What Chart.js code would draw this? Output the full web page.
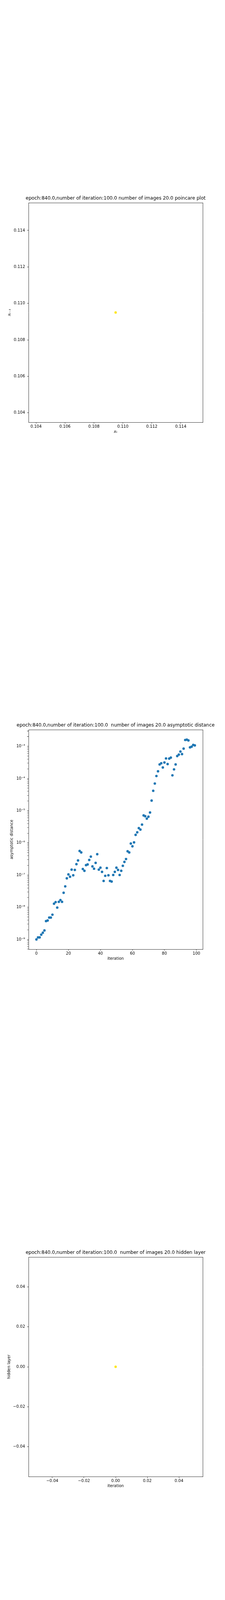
<!DOCTYPE html>
<html>
<head>
<meta charset="utf-8">
<script src="https://cdn.jsdelivr.net/npm/chart.js@4.4.1/dist/chart.umd.min.js"></script>
<style>
  body { margin: 0; background: #fff; width: 576px; height: 4320px; position: relative; }
  canvas { position: absolute; left: 16px; }
</style>
</head>
<body>
<canvas id="poincare" width="560" height="620" style="top:491px"></canvas>
<canvas id="distance" width="560" height="620" style="top:1840px"></canvas>
<canvas id="hidden" width="560" height="620" style="top:3190px"></canvas>
<script>
// poincare plot: one point
let poincareX = [0.1095];
let poincareY = [0.1095];
let poincareTicks = [0.104, 0.106, 0.108, 0.110, 0.112, 0.114];

// asymptotic distance per iteration
let iterations = [
  0, 1, 2, 3, 4, 5, 6, 7, 8, 9,
  10, 11, 12, 13, 14, 15, 16, 17, 18, 19,
  20, 21, 22, 23, 24, 25, 26, 27, 28, 29,
  30, 31, 32, 33, 34, 35, 36, 37, 38, 39,
  40, 41, 42, 43, 44, 45, 46, 47, 48, 49,
  50, 51, 52, 53, 54, 55, 56, 57, 58, 59,
  60, 61, 62, 63, 64, 65, 66, 67, 68, 69,
  70, 71, 72, 73, 74, 75, 76, 77, 78, 79,
  80, 81, 82, 83, 84, 85, 86, 87, 88, 89,
  90, 91, 92, 93, 94, 95, 96, 97, 98, 99
];
let asymptoticDistance = [
  1.00e-9, 1.16e-9, 1.16e-9, 1.41e-9, 1.62e-9, 1.91e-9, 3.72e-9, 3.89e-9, 4.79e-9, 4.79e-9,
  5.89e-9, 1.29e-8, 1.45e-8, 9.8e-9, 1.48e-8, 1.68e-8, 1.48e-8, 2.82e-8, 4.47e-8, 7.94e-8,
  1.05e-7, 8.91e-8, 1.48e-7, 9.9e-8, 1.45e-7, 2.19e-7, 2.85e-7, 5.62e-7, 5.07e-7, 1.55e-7,
  1.36e-7, 2.04e-7, 2.14e-7, 2.95e-7, 3.76e-7, 1.86e-7, 1.58e-7, 2.40e-7, 4.47e-7, 1.48e-7,
  1.70e-7, 1.26e-7, 6.6e-8, 9.5e-8, 1.66e-7, 9.9e-8, 6.6e-8, 6.3e-8, 1.01e-7, 1.26e-7,
  1.70e-7, 1.45e-7, 1.01e-7, 1.36e-7, 1.95e-7, 2.57e-7, 3.16e-7, 5.50e-7, 5.07e-7, 9.55e-7,
  7.85e-7, 1.04e-6, 1.78e-6, 2.14e-6, 2.88e-6, 2.60e-6, 3.72e-6, 7.16e-6, 6.76e-6, 5.69e-6,
  6.53e-6, 8.81e-6, 2.07e-5, 4.17e-5, 7.0e-5, 1.20e-4, 1.68e-4, 2.75e-4, 2.99e-4, 2.21e-4,
  3.16e-4, 4.22e-4, 2.82e-4, 4.17e-4, 4.47e-4, 1.26e-4, 1.93e-4, 2.75e-4, 5.01e-4, 5.56e-4,
  6.92e-4, 5.75e-4, 8.51e-4, 1.58e-3, 1.62e-3, 1.53e-3, 9.3e-4, 9.8e-4, 1.11e-3, 1.07e-3
];
let iterationTicks = [0, 20, 40, 60, 80, 100];
let distanceExponents = [-9, -8, -7, -6, -5, -4, -3];
let distanceTickLabels = ["10⁻⁹", "10⁻⁸", "10⁻⁷", "10⁻⁶", "10⁻⁵", "10⁻⁴", "10⁻³"];

// hidden layer: one point
let hiddenX = [0.0];
let hiddenY = [0.0];
let hiddenTicks = [-0.04, -0.02, 0.00, 0.02, 0.04];

Chart.defaults.font.family = "'DejaVu Sans', sans-serif";
Chart.defaults.color = "#000";

function tickGrid()
{
  return {
    drawOnChartArea: false,
    drawTicks: true,
    tickLength: 3.5,
    tickColor: "#000",
    tickWidth: function(ctx) { return ctx.tick && ctx.tick.major === false ? 0.6 : 0.8; }
  };
}

function spine(position)
{
  return {
    type: "linear",
    position: position,
    min: 0,
    max: 1,
    grid: { display: false, drawTicks: false },
    ticks: { display: false },
    border: { display: true, color: "#000", width: 0.8 },
    afterFit: function(scale) {
      if (position === "top") scale.height = 0;
      else scale.width = 57;
    }
  };
}

function xAxis(opts)
{
  return Object.assign({
    position: "bottom",
    afterFit: function(scale) { scale.height = 30; },
    ticks: { autoSkip: false, maxRotation: 0, padding: 1.5, font: { size: 10 }, callback: opts.format },
    grid: tickGrid(),
    border: { display: true, color: "#000", width: 0.8 },
    title: { display: true, text: opts.label, font: { size: 10, style: opts.italic ? "italic" : "normal" }, padding: { top: 0, bottom: 0 } }
  }, opts.scale);
}

function yAxis(opts)
{
  return Object.assign({
    position: "left",
    afterFit: function(scale) { scale.width = 57; },
    ticks: { autoSkip: false, padding: 5.5, font: { size: 10 }, callback: opts.format },
    grid: tickGrid(),
    border: { display: true, color: "#000", width: 0.8 },
    title: { display: true, text: opts.label, font: { size: 10, style: opts.italic ? "italic" : "normal" }, padding: { top: opts.titlePad, bottom: 0 } }
  }, opts.scale);
}

function makeChart(id, title, points, color, scales)
{
  scales.x2 = spine("top");
  scales.y2 = spine("right");
  return new Chart(document.getElementById(id), {
    type: "scatter",
    data: {
      datasets: [{
        data: points,
        backgroundColor: color,
        borderWidth: 0,
        pointRadius: 3.2,
        pointHoverRadius: 3.2
      }]
    },
    options: {
      responsive: false,
      animation: false,
      events: [],
      layout: { padding: 0 },
      plugins: {
        legend: { display: false },
        tooltip: { enabled: false },
        title: {
          display: true,
          text: title,
          color: "#000",
          font: { size: 12, weight: "normal" },
          padding: { top: 9.8, bottom: 3.8 }
        }
      },
      scales: scales
    }
  });
}

function fixedTicks(values)
{
  return function(scale) { scale.ticks = values.map(function(v) { return { value: v }; }); };
}

function minus(text)
{
  return text.replace("-", "\u2212");
}

// chart 1: poincare plot
makeChart("poincare",
  "epoch:840.0,number of iteration:100.0 number of images 20.0 poincare plot",
  poincareX.map(function(x, i) { return { x: x, y: poincareY[i] }; }),
  "#fde725",
  {
    x: xAxis({
      label: "xₜ", italic: true,
      format: function(v) { return minus(v.toFixed(3)); },
      scale: { type: "linear", min: 0.10348, max: 0.11552, afterBuildTicks: fixedTicks(poincareTicks) }
    }),
    y: yAxis({
      label: "xₜ₋₁", italic: true, titlePad: 2.5,
      format: function(v) { return minus(v.toFixed(3)); },
      scale: { type: "linear", min: 0.10348, max: 0.11552, afterBuildTicks: fixedTicks(poincareTicks) }
    })
  });

// chart 2: asymptotic distance, log scale
let logTicks = [];
distanceExponents.forEach(function(e) {
  for (let k = 1; k <= 9; k++) logTicks.push({ value: k * Math.pow(10, e), major: k === 1 });
});
logTicks.push({ value: 2 * Math.pow(10, -3), major: false });
logTicks.push({ value: 3 * Math.pow(10, -3), major: false });
logTicks.unshift({ value: 9 * Math.pow(10, -10), major: false });
logTicks.unshift({ value: 8 * Math.pow(10, -10), major: false });
logTicks.unshift({ value: 7 * Math.pow(10, -10), major: false });
logTicks.unshift({ value: 6 * Math.pow(10, -10), major: false });
logTicks.unshift({ value: 5 * Math.pow(10, -10), major: false });

makeChart("distance",
  "epoch:840.0,number of iteration:100.0  number of images 20.0 asymptotic distance",
  iterations.map(function(x, i) { return { x: x, y: asymptoticDistance[i] }; }),
  "#1f77b4",
  {
    x: xAxis({
      label: "iteration",
      format: function(v) { return String(v); },
      scale: { type: "linear", min: -4.95, max: 103.95, afterBuildTicks: fixedTicks(iterationTicks) }
    }),
    y: yAxis({
      label: "asymptotic distance", titlePad: 8,
      format: function(v, i, ticks) {
        if (!ticks[i].major) return "";
        let e = Math.round(Math.log10(v));
        let idx = distanceExponents.indexOf(e);
        return idx >= 0 ? distanceTickLabels[idx] : "";
      },
      scale: {
        type: "logarithmic", min: 4.98e-10, max: 3.30e-3,
        afterBuildTicks: function(scale) {
          scale.ticks = logTicks.filter(function(t) { return t.value >= 4.98e-10 && t.value <= 3.30e-3; })
            .map(function(t) { return { value: t.value, major: t.major }; });
        }
      }
    })
  });

// chart 3: hidden layer
makeChart("hidden",
  "epoch:840.0,number of iteration:100.0  number of images 20.0 hidden layer",
  hiddenX.map(function(x, i) { return { x: x, y: hiddenY[i] }; }),
  "#fde725",
  {
    x: xAxis({
      label: "iteration",
      format: function(v) { return minus(v.toFixed(2)); },
      scale: { type: "linear", min: -0.055, max: 0.055, afterBuildTicks: fixedTicks(hiddenTicks) }
    }),
    y: yAxis({
      label: "hidden layer", titlePad: 1.4,
      format: function(v) { return minus(v.toFixed(2)); },
      scale: { type: "linear", min: -0.055, max: 0.055, afterBuildTicks: fixedTicks(hiddenTicks) }
    })
  });
</script>
</body>
</html>
